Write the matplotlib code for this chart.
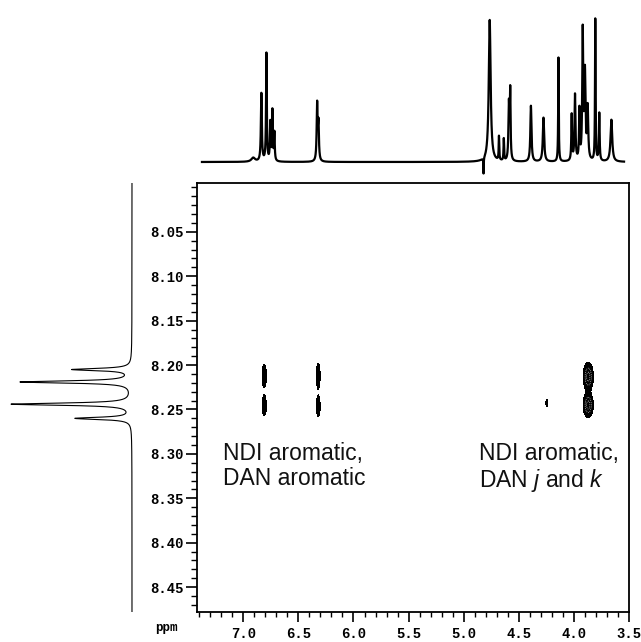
"""2D NMR (ROESY-type) map of NDI/DAN cross peaks with 1D projections."""

import matplotlib
matplotlib.use("Agg")
import matplotlib.pyplot as plt
from matplotlib.ticker import MultipleLocator, FixedLocator, FormatStrFormatter
import numpy as np

# ---- data ----
# top (F2) 1D spectrum: peak position (ppm), height, half width (ppm)
top_ppm = [6.91, 6.836, 6.79, 6.755, 6.736, 6.718, 6.33, 6.318,
           4.82, 4.764, 4.68, 4.636, 4.59, 4.578, 4.39, 4.276, 4.14,
           4.02, 3.99, 3.95, 3.92, 3.90, 3.875, 3.806, 3.77, 3.66]
top_height = [4, 68, 108, 38, 50, 28, 56, 36,
              -16, 142, 24, 22, 56, 68, 56, 44, 104,
              46, 66, 50, 128, 86, 52, 142, 48, 42]
top_width = [0.02, 0.005, 0.004, 0.004, 0.004, 0.004, 0.005, 0.005,
             0.002, 0.010, 0.003, 0.003, 0.005, 0.004, 0.006, 0.007, 0.003,
             0.004, 0.005, 0.004, 0.005, 0.006, 0.006, 0.003, 0.004, 0.009]

# left (F1) 1D spectrum: NDI aromatic doublets
left_ppm = [8.205, 8.219, 8.244, 8.260]
left_height = [59, 111, 120, 56]
left_width = [0.0015, 0.0015, 0.0015, 0.0015]

# 2D cross peaks: F2 ppm, F1 ppm, amplitude, widths
cross_f2 = [6.81, 6.81, 6.32, 6.32, 3.87, 3.87, 4.245]
cross_f1 = [8.212, 8.246, 8.212, 8.247, 8.213, 8.245, 8.243]
cross_amp = [1.0, 1.0, 1.0, 1.0, 3.0, 3.0, 0.8]
cross_wx = [0.017, 0.017, 0.015, 0.015, 0.025, 0.025, 0.010]
cross_wy = [0.0105, 0.009, 0.0115, 0.009, 0.0085, 0.0075, 0.004]

y_major = [8.05, 8.10, 8.15, 8.20, 8.25, 8.30, 8.35, 8.40, 8.45]

labels = ["NDI aromatic,\nDAN aromatic", "NDI aromatic,\nDAN $j$ and $k$"]
label_x = [7.184, 4.861]
label_y = [8.2865, 8.2865]

X_LIM = (7.42, 3.5)
Y_LIM = (8.478, 7.995)


def lorentz_sum(axis, centers, heights, widths):
    out = np.zeros_like(axis)
    for c, h, w in zip(centers, heights, widths):
        out += h * w ** 2 / ((axis - c) ** 2 + w ** 2)
    return out


def gauss2d_sum(xx, yy):
    z = np.zeros_like(xx)
    for x0, y0, a, sx, sy in zip(cross_f2, cross_f1, cross_amp, cross_wx, cross_wy):
        z += a * np.exp(-0.5 * (((xx - x0) / sx) ** 2 + ((yy - y0) / sy) ** 2))
    return z


plt.rcParams["mathtext.fontset"] = "custom"
plt.rcParams["mathtext.it"] = "Liberation Sans:italic"
plt.rcParams["mathtext.rm"] = "Liberation Sans"

W, H = 641, 642
fig = plt.figure(figsize=(W / 100, H / 100), dpi=100)

# main axes position in pixels
left_px, right_px, top_px, bot_px = 197, 629, 183, 612
ax = fig.add_axes([left_px / W, 1 - bot_px / H,
                   (right_px - left_px) / W, (bot_px - top_px) / H])

# 2D map
gx = np.linspace(X_LIM[1], X_LIM[0], 900)
gy = np.linspace(Y_LIM[1], Y_LIM[0], 700)
xx, yy = np.meshgrid(gx, gy)
zz = gauss2d_sum(xx, yy)
ax.contourf(xx, yy, zz, levels=[0.5, 100], colors="black")
ax.contour(xx, yy, zz, levels=[1.6, 2.5], colors="white",
           linewidths=0.5, linestyles="dotted")

ax.set_xlim(*X_LIM)
ax.set_ylim(*Y_LIM)
for s in ax.spines.values():
    s.set_linewidth(1.3)

tick_font = {"family": "Liberation Mono", "weight": "bold", "size": 10}
ax.xaxis.set_major_locator(MultipleLocator(0.5))
ax.xaxis.set_minor_locator(MultipleLocator(0.1))
ax.yaxis.set_major_locator(FixedLocator(y_major))
ax.yaxis.set_minor_locator(MultipleLocator(0.01))
ax.xaxis.set_major_formatter(FormatStrFormatter("%.1f"))
ax.yaxis.set_major_formatter(FormatStrFormatter("%.2f"))
ax.tick_params(which="major", direction="out", length=7, width=1.2, pad=4)
ax.tick_params(which="minor", direction="out", length=3.5, width=1.0)
ax.tick_params(axis="y", which="major", length=8, pad=1.5)
ax.tick_params(axis="y", which="minor", length=4.5)
for lab in ax.get_xticklabels() + ax.get_yticklabels():
    lab.set_fontproperties(tick_font)

for txt, tx, ty in zip(labels, label_x, label_y):
    ax.text(tx, ty, txt, ha="left", va="top", fontsize=16.5,
            family="Liberation Sans", linespacing=1.1, color="#111111")

fig.text(166 / W, 1 - 628 / H, "ppm", ha="center", va="center",
         family="Liberation Mono", weight="bold", fontsize=9)

# top projection
ax_top = fig.add_axes([left_px / W, 1 - top_px / H,
                       (right_px - left_px) / W, top_px / H])
top_axis = np.linspace(7.375, 3.545, 6000)
top_trace = lorentz_sum(top_axis, top_ppm, top_height, top_width)
ax_top.plot(top_axis, top_trace, color="black", lw=1.6)
ax_top.set_xlim(*X_LIM)
ax_top.set_ylim(-21, 162)
ax_top.axis("off")

# left projection
ax_left = fig.add_axes([0, 1 - bot_px / H, 140 / W, (bot_px - top_px) / H])
left_axis = np.linspace(Y_LIM[1], Y_LIM[0], 5000)
left_trace = lorentz_sum(left_axis, left_ppm, left_height, left_width)
ax_left.plot(left_trace, left_axis, color="black", lw=0.8)
ax_left.set_xlim(132, -8)
ax_left.set_ylim(*Y_LIM)
ax_left.axis("off")

fig.savefig("out.png", dpi=100)
